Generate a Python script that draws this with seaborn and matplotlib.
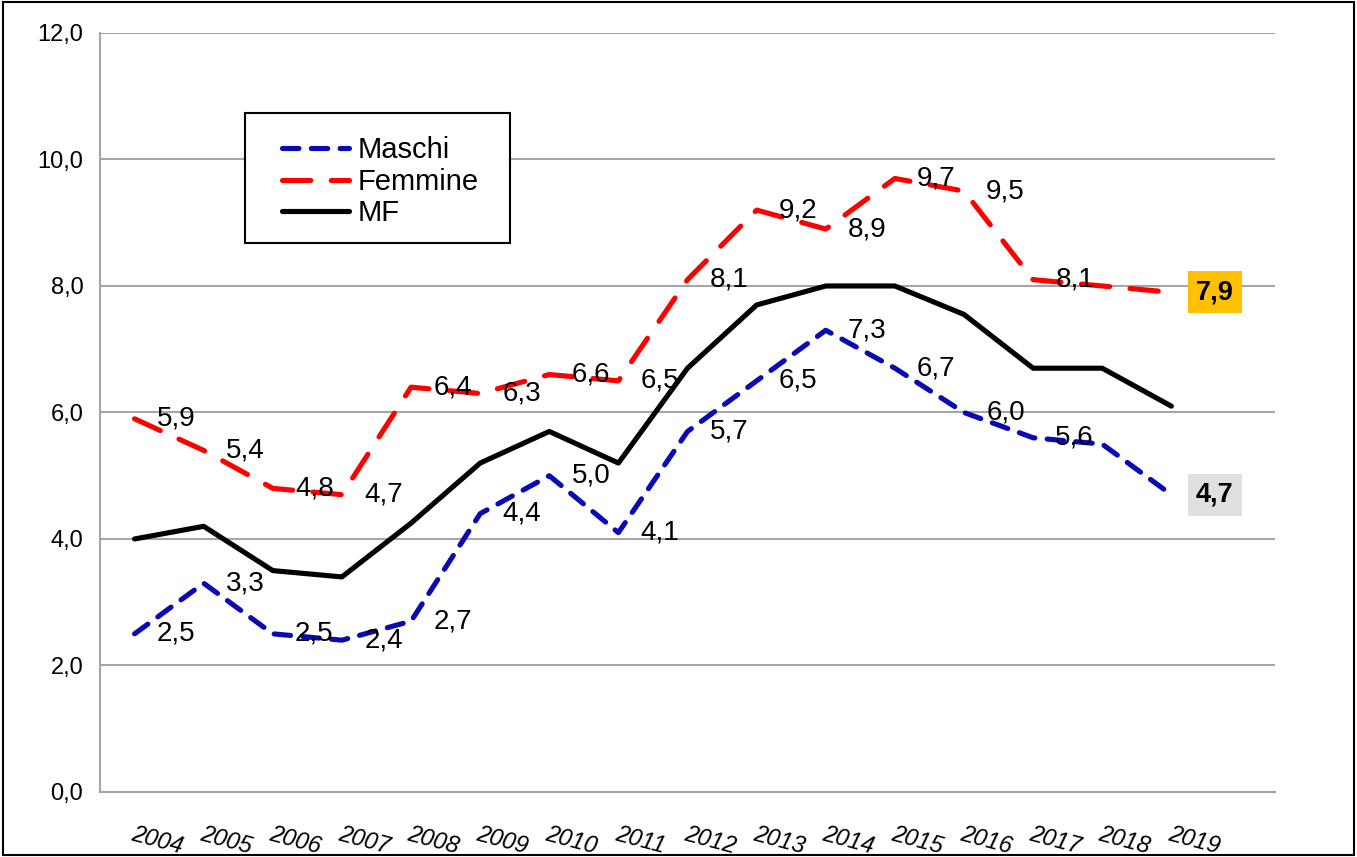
import numpy as np
import pandas as pd
import matplotlib
matplotlib.use("Agg")
import matplotlib.pyplot as plt
import seaborn as sns
from matplotlib.patches import Rectangle
from matplotlib.ticker import FixedLocator, FuncFormatter, NullFormatter

# ----------------------------------------------------------------------
# Data
# ----------------------------------------------------------------------
years = list(range(2004, 2020))
maschi = [2.5, 3.3, 2.5, 2.4, 2.7, 4.4, 5.0, 4.1, 5.7, 6.5, 7.3, 6.7, 6.0, 5.6, 5.5, 4.7]
femmine = [5.9, 5.4, 4.8, 4.7, 6.4, 6.3, 6.6, 6.5, 8.1, 9.2, 8.9, 9.7, 9.5, 8.1, 8.0, 7.9]
mf = [4.0, 4.2, 3.5, 3.4, 4.25, 5.2, 5.7, 5.2, 6.7, 7.7, 8.0, 8.0, 7.55, 6.7, 6.7, 6.1]
y_ticks = [0, 2, 4, 6, 8, 10, 12]

df = pd.DataFrame({"Anno": years, "Maschi": maschi, "Femmine": femmine, "MF": mf})

BLUE = "#0A0AB4"
RED = "#FF0000"
GRID = "#A6A6A6"

sns.set_style("white")
plt.rcParams["font.family"] = ["Liberation Sans", "DejaVu Sans"]
plt.rcParams["text.color"] = "black"
plt.rcParams["xtick.color"] = "black"
plt.rcParams["ytick.color"] = "black"

fig = plt.figure(figsize=(13.57, 8.57), dpi=100)
ax = fig.add_axes([0.0737, 0.0759, 0.8659, 0.8856])

lw = 3.7
sns.lineplot(data=df, x="Anno", y="Maschi", ax=ax, color=BLUE, lw=lw,
             linestyle=(0, (3.2, 2.4)), dash_capstyle="round", label="Maschi")
sns.lineplot(data=df, x="Anno", y="Femmine", ax=ax, color=RED, lw=lw,
             linestyle=(0, (5.5, 4.0)), dash_capstyle="round", label="Femmine")
sns.lineplot(data=df, x="Anno", y="MF", ax=ax, color="black", lw=lw,
             solid_capstyle="round", label="MF")

# ----------------------------------------------------------------------
# Axes styling (Excel look)
# ----------------------------------------------------------------------
ax.set_xlim(years[0] - 0.5, years[-1] + 1.5)
ax.set_ylim(0, 12)
ax.set_xlabel("")
ax.set_ylabel("")

ax.yaxis.set_major_locator(FixedLocator(y_ticks))
ax.yaxis.set_major_formatter(FuncFormatter(lambda v, p: f"{v:.1f}".replace(".", ",")))
ax.grid(axis="y", color=GRID, lw=1.5)
ax.grid(axis="x", visible=False)
ax.set_axisbelow(True)

bounds = [y - 0.5 for y in years] + [years[-1] + 0.5, years[-1] + 1.5]
ax.xaxis.set_major_locator(FixedLocator(bounds))
ax.xaxis.set_major_formatter(NullFormatter())
ax.xaxis.set_minor_locator(FixedLocator(years))
ax.xaxis.set_minor_formatter(FuncFormatter(lambda v, p: str(int(round(v)))))
ax.tick_params(axis="x", which="major", length=6, width=1.5, color=GRID, direction="out")
ax.tick_params(axis="x", which="minor", length=0, pad=22, labelsize=17)
ax.tick_params(axis="y", length=6, width=1.5, color=GRID, pad=6, labelsize=17)
for lab in ax.xaxis.get_minorticklabels():
    lab.set_rotation(-15)
    lab.set_rotation_mode("anchor")
    lab.set_ha("left")
    lab.set_va("top")
    lab.set_style("italic")

for s in ["top", "right"]:
    ax.spines[s].set_visible(False)
for s in ["left", "bottom"]:
    ax.spines[s].set_color(GRID)
    ax.spines[s].set_linewidth(1.5)

# ----------------------------------------------------------------------
# Data labels (right of the points)
# ----------------------------------------------------------------------
def fmt(v):
    return f"{v:.1f}".replace(".", ",")

for series in (maschi, femmine):
    for yr, v in zip(years[:14], series[:14]):
        ax.annotate(fmt(v), (yr, v), xytext=(16, 0), textcoords="offset points",
                    ha="left", va="center", fontsize=20)

ax.annotate(fmt(femmine[-1]), (years[-1], femmine[-1]), xytext=(17.5, 0),
            textcoords="offset points", ha="left", va="center", fontsize=19.5,
            fontweight="bold",
            bbox=dict(boxstyle="square,pad=0.3", fc="#FFC000", ec="none"))
ax.annotate(fmt(maschi[-1]), (years[-1], maschi[-1]), xytext=(17.5, 0),
            textcoords="offset points", ha="left", va="center", fontsize=19.5,
            fontweight="bold",
            bbox=dict(boxstyle="square,pad=0.3", fc="#E0E0E0", ec="none"))

# ----------------------------------------------------------------------
# Legend (frame drawn separately, Excel-like box) + outer border
# ----------------------------------------------------------------------
leg = ax.legend(loc="upper left", bbox_to_anchor=(0.155, 0.864), borderaxespad=0,
                fontsize=21, frameon=False, handlelength=2.3, handletextpad=0.3,
                labelspacing=0.12, borderpad=0)
ax.add_patch(Rectangle((0.1234, 0.7233), 0.2255, 0.1713, transform=ax.transAxes,
                       fill=True, fc="white", ec="black", lw=1.5, zorder=4))
leg.set_zorder(5)

fig.patches.append(Rectangle((0.002, 0.002), 0.996, 0.996, transform=fig.transFigure,
                             fill=False, ec="black", lw=1.5))

fig.savefig("out.png", dpi=100)
